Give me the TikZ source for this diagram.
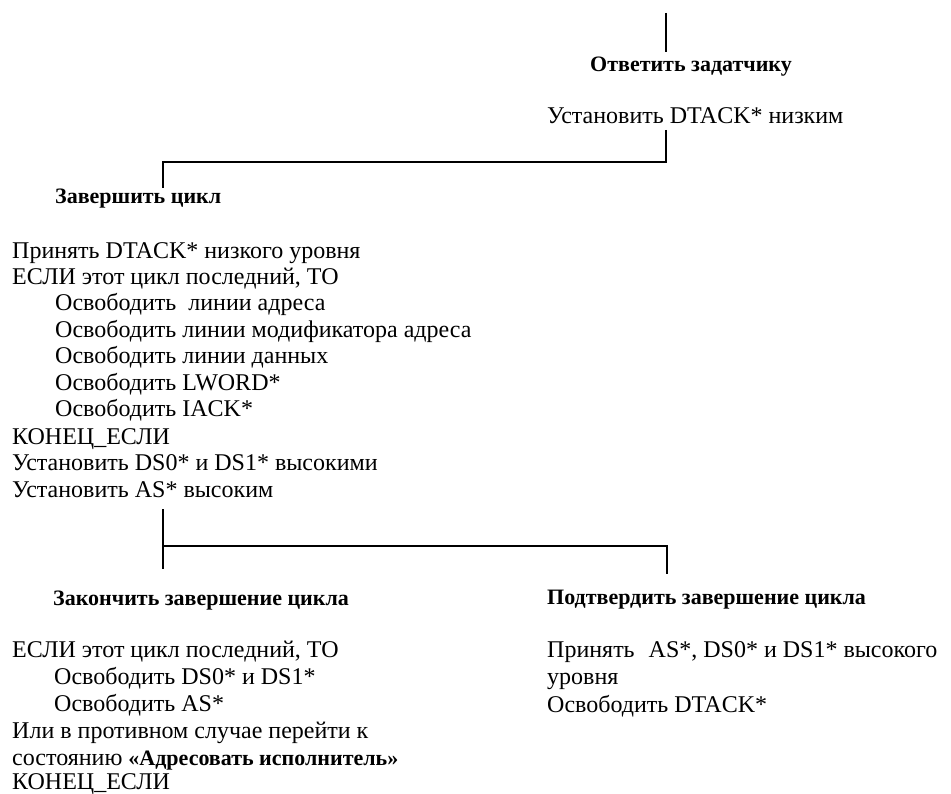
\documentclass[tikz,border=0pt]{standalone}
\usepackage{fontspec}
\setmainfont{Liberation Serif}
\begin{document}
\begin{tikzpicture}[x=1pt,y=-1pt,
  txt/.style={anchor=base west, inner sep=0pt, font=\fontsize{24}{28}\selectfont},
  hd/.style={anchor=base west, inner sep=0pt, font=\bfseries\fontsize{22}{26}\selectfont},
  conn/.style={line width=1.5pt}]
\useasboundingbox (0,0) rectangle (951,794);
% top state
\node[hd]  (otv) at (590,72) {Ответить задатчику};
\node[txt] (ust) at (547,124) {Установить DTACK* низким};
% left state
\node[hd]  (zav) at (55,204) {Завершить цикл};
\node[txt] (l1)  at (12,259)  {Принять DTACK* низкого уровня};
\node[txt] (l2)  at (12,285)  {ЕСЛИ этот цикл последний, ТО};
\node[txt] (l3)  at (55,311)  {Освободить\ \ линии адреса};
\node[txt] (l4)  at (55,338)  {Освободить линии модификатора адреса};
\node[txt] (l5)  at (55,364)  {Освободить линии данных};
\node[txt] (l6)  at (55,391)  {Освободить LWORD*};
\node[txt] (l7)  at (55,417)  {Освободить IACK*};
\node[txt] (l8)  at (12,444)  {КОНЕЦ\_ЕСЛИ};
\node[txt] (l9)  at (12,470)  {Установить DS0* и DS1* высокими};
\node[txt] (l10) at (12,497)  {Установить AS* высоким};
% bottom left state
\node[hd]  (zak) at (53,605) {Закончить завершение цикла};
\node[txt] (m1)  at (12,657) {ЕСЛИ этот цикл последний, ТО};
\node[txt] (m2)  at (54,684) {Освободить DS0* и DS1*};
\node[txt] (m3)  at (54,711) {Освободить AS*};
\node[txt] (m4)  at (12,738) {Или в противном случае перейти к};
\node[txt] (m5)  at (12,765) {состоянию {\bfseries\fontsize{22}{26}\selectfont «Адресовать исполнитель»}};
\node[txt] (m6)  at (12,789) {КОНЕЦ\_ЕСЛИ};
% bottom right state
\node[hd]  (pod) at (547,604) {Подтвердить завершение цикла};
\node[txt] (r1)  at (547,657) {Принять\hspace{14pt}AS*, DS0* и DS1* высокого};
\node[txt] (r2)  at (547,684) {уровня};
\node[txt] (r3)  at (547,712) {Освободить DTACK*};
% connector points
\coordinate (a0) at (666,13);
\coordinate (a1) at (666,52);
\coordinate (b0) at (666,130);
\coordinate (b1) at (666,162);
\coordinate (b2) at (163,162);
\coordinate (b3) at (163,188);
\coordinate (c0) at (163,509);
\coordinate (c1) at (163,546);
\coordinate (c2) at (163,569);
\coordinate (c3) at (667,546);
\coordinate (c4) at (667,574);
\draw[conn] (a0) -- (a1);
\draw[conn] (b0) -- (b1) -- (b2) -- (b3);
\draw[conn] (c0) -- (c2);
\draw[conn] (c1) -- (c3) -- (c4);
\end{tikzpicture}
\end{document}
